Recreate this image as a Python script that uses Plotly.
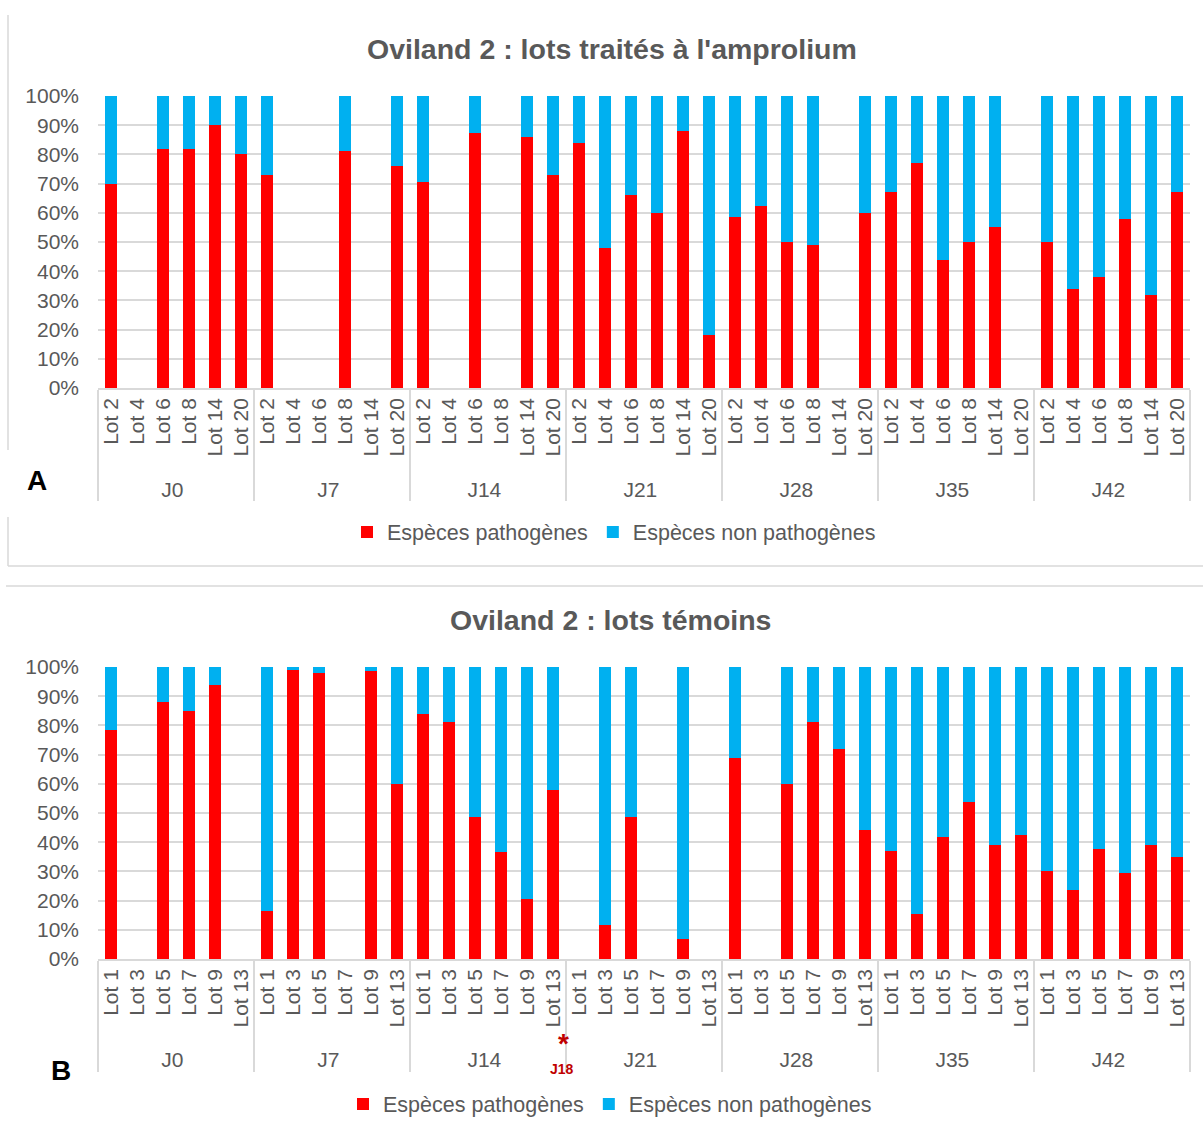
import plotly.graph_objects as go

W, H = 1203, 1128

# ---------------- data ----------------
days = ["J0", "J7", "J14", "J21", "J28", "J35", "J42"]
lots_A = ["Lot 2", "Lot 4", "Lot 6", "Lot 8", "Lot 14", "Lot 20"]
lots_B = ["Lot 1", "Lot 3", "Lot 5", "Lot 7", "Lot 9", "Lot 13"]

# Chart A: % pathogenic species (None = no data), per day, per lot
path_A_J0 = [70, None, 82, 82, 90, 80]
path_A_J7 = [73, None, None, 81, None, 76]
path_A_J14 = [70.5, None, 87.5, None, 86, 73]
path_A_J21 = [84, 48, 66, 60, 88, 18]
path_A_J28 = [58.5, 62.5, 50, 49, None, 60]
path_A_J35 = [67, 77, 44, 50, 55, None]
path_A_J42 = [50, 34, 38, 58, 32, 67]

# Chart B: % pathogenic species (None = no data)
path_B_J0 = [78.5, None, 88, 85, 93.7, None]
path_B_J7 = [16.5, 99, 97.8, None, 98.6, 60]
path_B_J14 = [84, 81, 48.8, 36.8, 20.5, 57.8]
path_B_J21 = [None, 11.5, 48.8, None, 6.7, None]
path_B_J28 = [68.8, None, 59.8, 81, 72, 44.2]
path_B_J35 = [36.9, 15.5, 41.7, 53.6, 39, 42.6]
path_B_J42 = [30, 23.8, 37.7, 29.6, 39, 34.8]

y_ticks = [0, 10, 20, 30, 40, 50, 60, 70, 80, 90, 100]
y_tick_text = ["0%", "10%", "20%", "30%", "40%", "50%", "60%", "70%", "80%", "90%", "100%"]

RED = "#ff0000"
BLUE = "#00b0f0"
GREY_TXT = "#595959"
GRID = "#d9d9d9"
FONT = "Liberation Sans, Arial, sans-serif"


def flatten(day_lists, lots):
    outer, inner, vals = [], [], []
    for d, lst in zip(days, day_lists):
        for lot, v in zip(lots, lst):
            outer.append(d)
            inner.append(lot)
            vals.append(v)
    return [outer, inner], vals


xA, pA = flatten([path_A_J0, path_A_J7, path_A_J14, path_A_J21,
                  path_A_J28, path_A_J35, path_A_J42], lots_A)
xB, pB = flatten([path_B_J0, path_B_J7, path_B_J14, path_B_J21,
                  path_B_J28, path_B_J35, path_B_J42], lots_B)
npA = [None if v is None else 100 - v for v in pA]
npB = [None if v is None else 100 - v for v in pB]


def px(x):
    return x / W


def py(y):
    return 1 - y / H


fig = go.Figure()
fig.add_trace(go.Bar(x=xA, y=pA, name="Espèces pathogènes", marker_color=RED,
                     xaxis="x", yaxis="y", legend="legend"))
fig.add_trace(go.Bar(x=xA, y=npA, name="Espèces non pathogènes", marker_color=BLUE,
                     xaxis="x", yaxis="y", legend="legend"))
fig.add_trace(go.Bar(x=xB, y=pB, name="Espèces pathogènes", marker_color=RED,
                     xaxis="x2", yaxis="y2", legend="legend2"))
fig.add_trace(go.Bar(x=xB, y=npB, name="Espèces non pathogènes", marker_color=BLUE,
                     xaxis="x2", yaxis="y2", legend="legend2"))

xdom = [px(98), px(1190)]
xaxis_common = dict(
    type="multicategory", domain=xdom, tickangle=-90, automargin=False,
    tickfont=dict(family=FONT, size=21, color=GREY_TXT),
    showdividers=True, dividercolor=GRID, dividerwidth=1.5,
    showline=True, linecolor=GRID, linewidth=1.5,
    showgrid=False, ticks="",
)
yaxis_common = dict(
    range=[0, 100], tickmode="array", tickvals=y_ticks, ticktext=y_tick_text,
    automargin=False, ticklabelstandoff=18,
    tickfont=dict(family=FONT, size=21, color=GREY_TXT),
    showgrid=True, gridcolor=GRID, gridwidth=1.5,
    zeroline=False, showline=False, ticks="",
)

legend_common = dict(
    orientation="h", xanchor="center", yanchor="middle",
    font=dict(family=FONT, size=21.5, color=GREY_TXT),
    bgcolor="rgba(0,0,0,0)", traceorder="normal",
)

fig.update_layout(
    template="none",
    width=W, height=H,
    margin=dict(l=0, r=0, t=0, b=0, pad=0, autoexpand=False),
    paper_bgcolor="white", plot_bgcolor="white",
    barmode="stack", bargap=0.52,
    showlegend=True,
    xaxis=dict(xaxis_common, anchor="y"),
    yaxis=dict(yaxis_common, domain=[py(388), py(96)], anchor="x"),
    xaxis2=dict(xaxis_common, anchor="y2"),
    yaxis2=dict(yaxis_common, domain=[py(959), py(667)], anchor="x2"),
    legend=dict(legend_common, x=px(614), y=py(532)),
    legend2=dict(legend_common, x=px(610), y=py(1104)),
)

annotations = [
    dict(text="<b>Oviland 2 : lots traités à l'amprolium</b>", x=px(612), y=py(49),
         font=dict(family=FONT, size=28.5, color=GREY_TXT)),
    dict(text="<b>Oviland 2 : lots témoins</b>", x=px(610), y=py(620),
         font=dict(family=FONT, size=28.5, color=GREY_TXT)),
    dict(text="<b>A</b>", x=px(37), y=py(481),
         font=dict(family=FONT, size=28, color="black")),
    dict(text="<b>B</b>", x=px(61), y=py(1070),
         font=dict(family=FONT, size=28, color="black")),
    dict(text="<b>*</b>", x=px(563), y=py(1060), yanchor="bottom",
         font=dict(family=FONT, size=28, color="#c00000")),
    dict(text="<b>J18</b>", x=px(562), y=py(1060), yanchor="top",
         font=dict(family=FONT, size=14, color="#c00000")),
]
for a in annotations:
    a.setdefault("yanchor", "middle")
    a.update(xref="paper", yref="paper", showarrow=False, xanchor="center",
             borderpad=0)
fig.update_layout(annotations=annotations)

line = dict(color=GRID, width=1.5)
shapes = [
    dict(type="line", x0=px(8), x1=px(8), y0=py(15), y1=py(450), line=line),
    dict(type="line", x0=px(8), x1=px(8), y0=py(517), y1=py(566), line=line),
    dict(type="line", x0=px(8), x1=px(1203), y0=py(566), y1=py(566), line=line),
    dict(type="line", x0=px(6), x1=px(1203), y0=py(586), y1=py(586), line=line),
]
for s in shapes:
    s.update(xref="paper", yref="paper", layer="below")
fig.update_layout(shapes=shapes)

fig.write_html("out.html",
               config={"displayModeBar": False},
               post_script="document.body.style.margin='0px';"
                           "document.body.style.padding='0px';")
